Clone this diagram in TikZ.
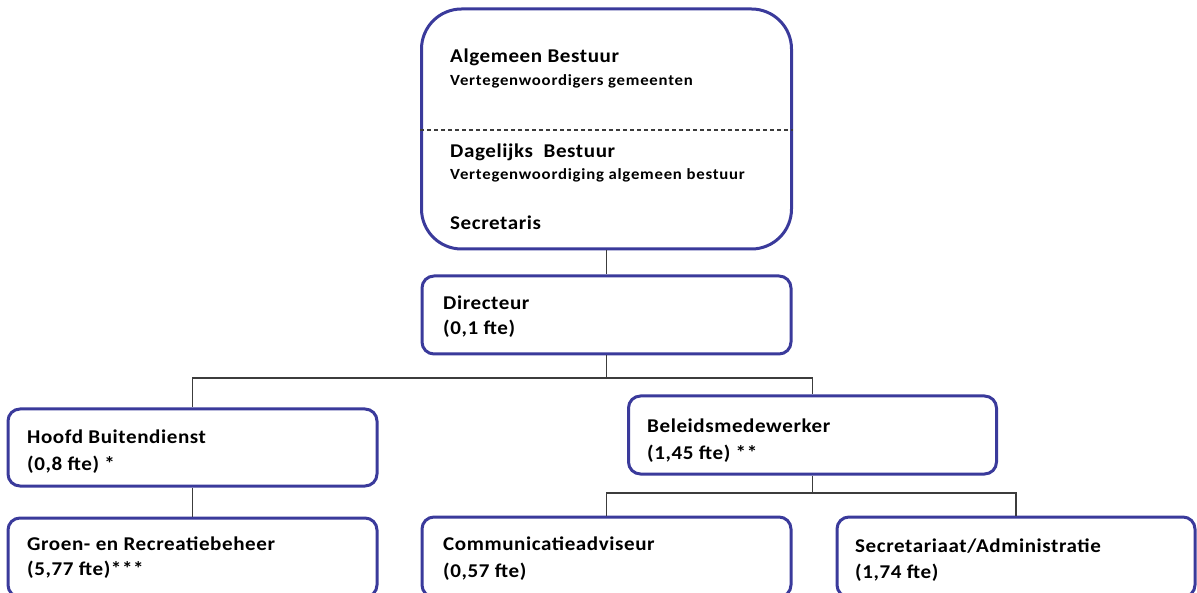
\documentclass[tikz,border=0pt]{standalone}
\usepackage{fontspec}
\setmainfont{Carlito}
\newfontfamily\hdfont[LetterSpace=3,FakeStretch=1.08]{Carlito Bold}
\newfontfamily\sbfont[LetterSpace=5,FakeStretch=1.08]{Carlito Bold}
\begin{document}
\begin{tikzpicture}[x=1pt,y=-1pt,
  box/.style={draw=boxblue, line width=3pt, rounded corners=12pt, fill=white, inner sep=0pt},
  conn/.style={draw=linegray, line width=1.3pt},
  hd/.style={anchor=base west, inner sep=0pt, font=\hdfont\fontsize{19.5}{22}\selectfont},
  sb/.style={anchor=base west, inner sep=0pt, font=\sbfont\fontsize{15.5}{17}\selectfont}]
\definecolor{boxblue}{RGB}{58,58,155}
\definecolor{linegray}{RGB}{60,60,60}
\useasboundingbox (0,0) rectangle (1197,593);
\clip (0,0) rectangle (1197,593);
% boxes
\node[box, rounded corners=40pt, minimum width=370pt, minimum height=240pt] (top) at (606.5,129) {};
\node[box, minimum width=369pt, minimum height=78pt] (dir) at (606.5,315) {};
\node[box, minimum width=369pt, minimum height=77pt] (hoofd) at (192.5,447.5) {};
\node[box, minimum width=368pt, minimum height=78pt] (beleid) at (812.5,435) {};
\node[box, minimum width=369pt, minimum height=79pt] (groen) at (192.5,557.5) {};
\node[box, minimum width=369pt, minimum height=80pt] (commu) at (606.5,557) {};
\node[box, minimum width=358pt, minimum height=80pt] (secr) at (1016,557) {};
% dashed separator
\coordinate (dl) at (top.west |- 0,130);
\coordinate (dr) at (top.east |- 0,130);
\draw[linegray, line width=1.2pt, dash pattern=on 4pt off 3pt] (dl) -- (dr);
% connectors
\coordinate (j1) at (dir.south |- 0,378);
\coordinate (j2) at (beleid.south |- 0,493);
\draw[conn] (top.south) -- (dir.north);
\draw[conn] (dir.south) -- (j1);
\draw[conn] (j1) -| (hoofd.north);
\draw[conn] (j1) -| (beleid.north);
\draw[conn] (hoofd.south) -- (groen.north);
\draw[conn] (beleid.south) -- (j2);
\draw[conn] (j2) -| (commu.north);
\draw[conn] (j2) -| (secr.north);
% texts
\node[hd] (t1) at (450,63) {Algemeen Bestuur};
\node[sb] (t2) at (450,86) {Vertegenwoordigers gemeenten};
\node[hd] (t3) at (450,158) {Dagelijks\ \ Bestuur};
\node[sb] (t4) at (450,180) {Vertegenwoordiging algemeen bestuur};
\node[hd] (t5) at (450,230) {Secretaris};
\node[hd] (d1) at (443,310) {Directeur};
\node[hd] (d2) at (443,335) {(0,1 fte)};
\node[hd] (h1) at (27,443) {Hoofd Buitendienst};
\node[hd] (h2) at (27,471) {(0,8 fte) *};
\node[hd] (b1) at (647,432) {Beleidsmedewerker};
\node[hd] (b2) at (647,460) {(1,45 fte) **};
\node[hd] (g1) at (27,550) {Groen- en Recreatiebeheer};
\node[hd] (g2) at (27,575) {(5,77 fte)***};
\node[hd] (c1) at (443,550) {Communicatieadviseur};
\node[hd] (c2) at (443,577) {(0,57 fte)};
\node[hd] (s1) at (855,552) {Secretariaat/Administratie};
\node[hd] (s2) at (855,578) {(1,74 fte)};
\end{tikzpicture}
\end{document}
